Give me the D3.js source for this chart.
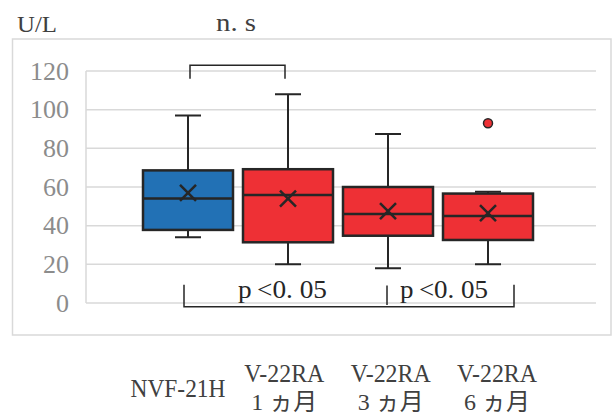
<!DOCTYPE html>
<html>
<head>
<meta charset="utf-8">
<script src="https://cdn.jsdelivr.net/npm/d3@7"></script>
<style>
  body { margin: 0; background: #fff; }
  text { font-family: "Liberation Serif", "Noto Sans CJK JP", serif; }
</style>
</head>
<body>
<div id="chart"></div>
<script>
// Chart data (U/L)
const labelTop = ["NVF-21H", "V-22RA", "V-22RA", "V-22RA"];
const labelBottom = ["", "1 ヵ月", "3 ヵ月", "6 ヵ月"];
const groups = ["g1", "g2", "g3", "g4"];
const whiskerLow = [34, 20, 18, 20];
const q1 = [37.8, 31.4, 34.8, 32.6];
const median = [54, 55.8, 46, 45];
const q3 = [68.6, 69.2, 60, 56.6];
const whiskerHigh = [97, 108, 87.4, 57.5];
const means = [57, 54, 47.5, 46.5];
const outliers = [[], [], [], [93]];
const yTicks = [0, 20, 40, 60, 80, 100, 120];

const width = 613, height = 417;

const svg = d3.select("#chart")
    .append("svg")
    .attr("width", width)
    .attr("height", height);

// outer frame
svg.append("rect")
    .attr("x", 12.5).attr("y", 39)
    .attr("width", 598.5).attr("height", 296)
    .attr("fill", "none")
    .attr("stroke", "#d9d9d9")
    .attr("stroke-width", 1.5);

// scales
const y = d3.scaleLinear().domain([0, 120]).range([303, 71]);
const x = d3.scaleBand().domain(groups).range([138, 538]).paddingInner(0.1).paddingOuter(0.05);
const xLabel = d3.scalePoint().domain(groups).range([178, 497]);
const colour = d3.scaleOrdinal().domain(groups).range(["#2271b5", "#ee3035", "#ee3035", "#ee3035"]);

const rows = groups.map((g, i) => ({
    g: g, lo: whiskerLow[i], q1: q1[i], med: median[i], q3: q3[i],
    hi: whiskerHigh[i], mean: means[i], out: outliers[i]
}));

// gridlines
svg.append("g").selectAll("line")
    .data(yTicks)
    .join("line")
    .attr("x1", 86).attr("x2", 596)
    .attr("y1", d => y(d)).attr("y2", d => y(d))
    .attr("stroke", "#d9d9d9").attr("stroke-width", 1.5);

svg.append("line")
    .attr("x1", 86).attr("x2", 86)
    .attr("y1", y(120)).attr("y2", y(0))
    .attr("stroke", "#d9d9d9").attr("stroke-width", 1.5);

// y axis labels
const yAxis = svg.append("g")
    .attr("transform", "translate(69,0)")
    .call(d3.axisLeft(y).tickValues(yTicks).tickSize(0).tickPadding(0));
yAxis.select(".domain").remove();
yAxis.selectAll("text")
    .attr("fill", "#8c8c8c")
    .attr("font-size", 26);

// units label
svg.append("text")
    .attr("x", 17).attr("y", 32)
    .attr("font-size", 24).attr("fill", "#404040")
    .attr("textLength", 40).attr("lengthAdjust", "spacingAndGlyphs")
    .text("U/L");

const box = svg.append("g");
const cx = d => x(d.g) + x.bandwidth() / 2;
const capHalf = 13;

// whiskers
box.selectAll(".whisker")
    .data(rows)
    .join("path")
    .attr("d", d => `M${cx(d)},${y(d.lo)}V${y(d.hi)}` +
        `M${cx(d) - capHalf},${y(d.lo)}H${cx(d) + capHalf}` +
        `M${cx(d) - capHalf},${y(d.hi)}H${cx(d) + capHalf}`)
    .attr("stroke", "#262626").attr("stroke-width", 2).attr("fill", "none");

// boxes
box.selectAll(".box")
    .data(rows)
    .join("rect")
    .attr("x", d => x(d.g))
    .attr("width", x.bandwidth())
    .attr("y", d => y(d.q3))
    .attr("height", d => y(d.q1) - y(d.q3))
    .attr("fill", d => colour(d.g))
    .attr("stroke", "#262626").attr("stroke-width", 2.5);

// medians
box.selectAll(".median")
    .data(rows)
    .join("line")
    .attr("x1", d => x(d.g)).attr("x2", d => x(d.g) + x.bandwidth())
    .attr("y1", d => y(d.med)).attr("y2", d => y(d.med))
    .attr("stroke", "#262626").attr("stroke-width", 2.5);

// mean markers
const m = 8;
box.selectAll(".mean")
    .data(rows)
    .join("path")
    .attr("d", d => `M${cx(d) - m},${y(d.mean) - m}L${cx(d) + m},${y(d.mean) + m}` +
        `M${cx(d) + m},${y(d.mean) - m}L${cx(d) - m},${y(d.mean) + m}`)
    .attr("stroke", "#262626").attr("stroke-width", 2.5).attr("fill", "none");

// outliers
box.selectAll(".outlier")
    .data(rows.flatMap(d => d.out.map(v => ({ g: d.g, v: v }))))
    .join("circle")
    .attr("cx", d => x(d.g) + x.bandwidth() / 2)
    .attr("cy", d => y(d.v))
    .attr("r", 4.5)
    .attr("fill", d => colour(d.g))
    .attr("stroke", "#262626").attr("stroke-width", 1.5);

// significance brackets
const ann = svg.append("g").attr("stroke", "#262626").attr("stroke-width", 1.5).attr("fill", "none");
const c1 = cx(rows[0]), c2 = cx(rows[1]), c3 = cx(rows[2]), c4 = cx(rows[3]);
ann.append("path")
    .attr("d", `M${c1 + 2},${y(116)}V${y(123)}H${c2 - 3}V${y(116)}`);
ann.append("path")
    .attr("d", `M${c1 - 4},${y(9.5)}V${y(-2)}H${c4 + 26}V${y(9.5)}` +
        `M${c3 - 1},${y(9)}V${y(-1)}`);

svg.append("text")
    .attr("x", 216).attr("y", 31)
    .attr("font-size", 25).attr("fill", "#404040")
    .attr("textLength", 40).attr("lengthAdjust", "spacingAndGlyphs")
    .text("n. s");

svg.selectAll(".ptext")
    .data([c1, c3])
    .join("text")
    .attr("x", (d, i) => i === 0 ? 238 : 400)
    .attr("y", 298)
    .attr("font-size", 25)
    .attr("fill", "#262626")
    .attr("textLength", (d, i) => i === 0 ? 89 : 88)
    .attr("lengthAdjust", "spacingAndGlyphs")
    .text("p\u2009<0. 05");

// category labels
const lab = svg.append("g").attr("fill", "#404040").attr("font-size", 26).attr("text-anchor", "middle");
lab.selectAll(".l1")
    .data(groups)
    .join("text")
    .attr("x", d => xLabel(d))
    .attr("y", (d, i) => labelBottom[i] ? 382 : 397)
    .attr("textLength", (d, i) => i === 0 ? 95 : 80)
    .attr("lengthAdjust", "spacingAndGlyphs")
    .text((d, i) => labelTop[i]);
lab.selectAll(".l2")
    .data(groups)
    .join("text")
    .attr("x", d => xLabel(d))
    .attr("y", 410)
    .attr("font-size", 24)
    .text((d, i) => labelBottom[i]);
</script>
</body>
</html>
